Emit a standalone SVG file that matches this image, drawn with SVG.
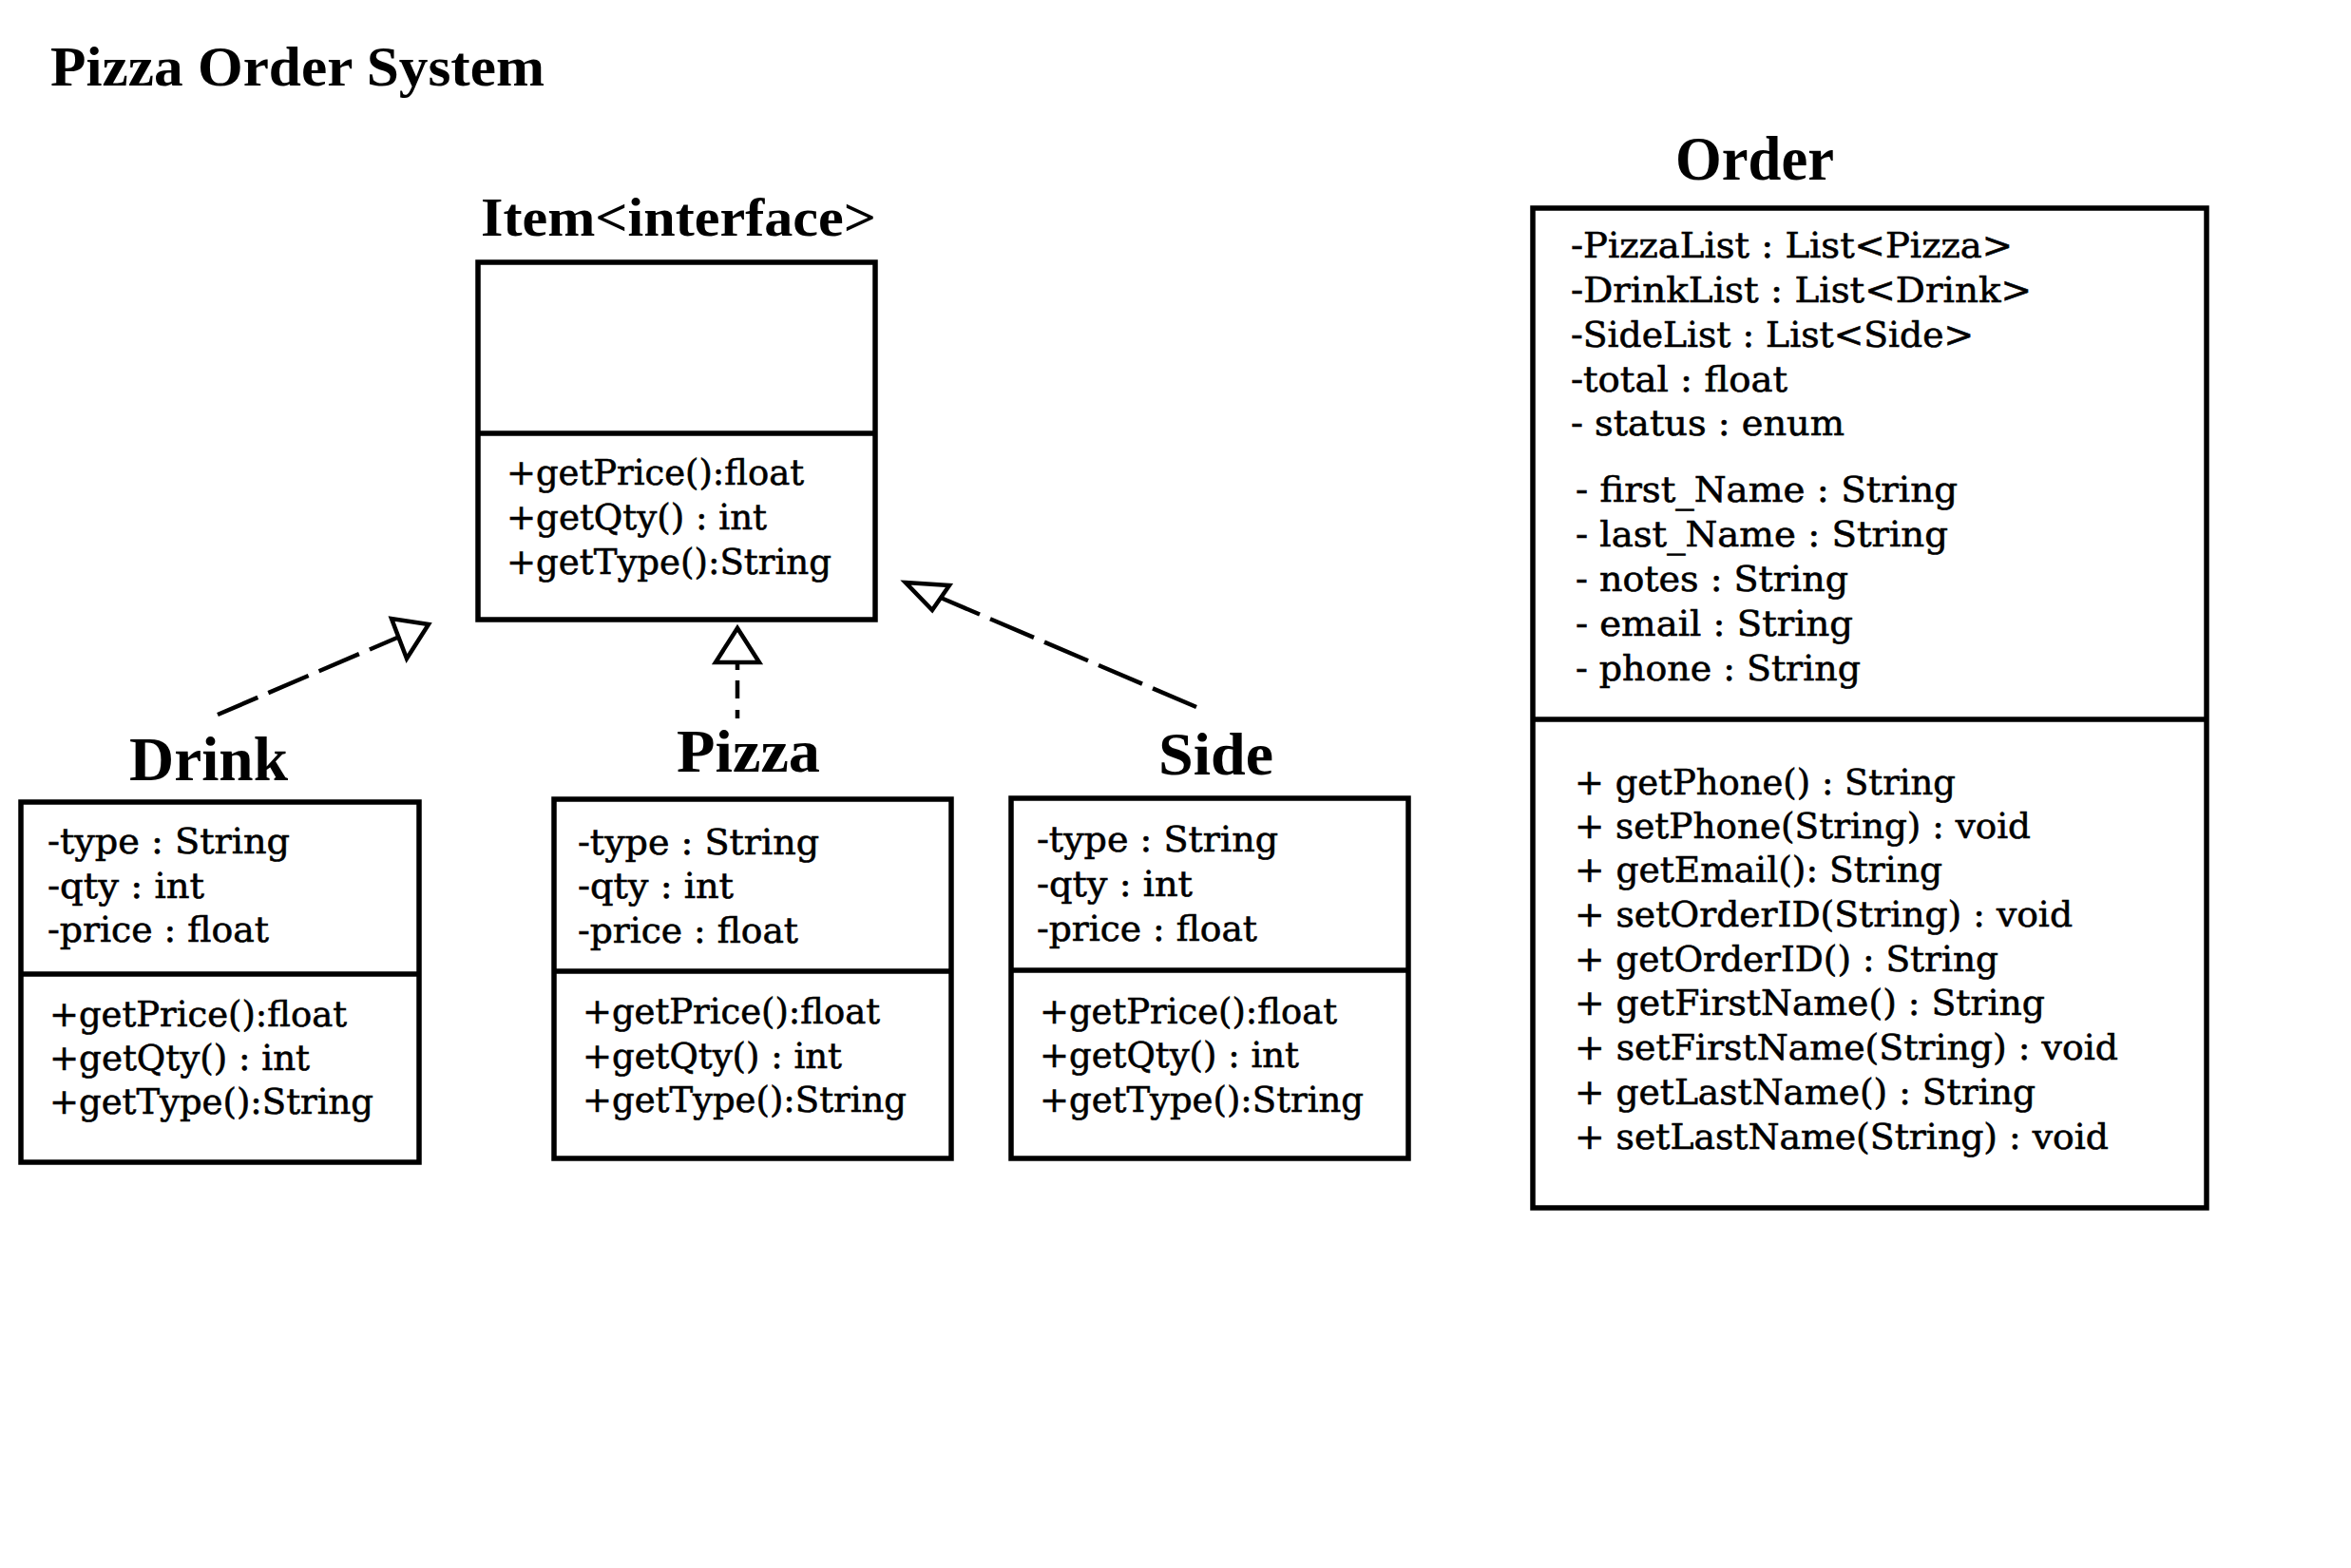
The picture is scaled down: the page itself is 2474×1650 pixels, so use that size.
<svg xmlns="http://www.w3.org/2000/svg" width="2474" height="1650" viewBox="0 0 2474 1650">
<style>
.bg{fill:#ffffff}
.box{fill:#ffffff;stroke:#000000;stroke-width:5.5}
.div{stroke:#000000;stroke-width:5.5;fill:none}
.t{font-family:"DejaVu Serif","Liberation Serif",serif;font-size:38px;fill:#000000;stroke:#000000;stroke-width:0.6}
.h{font-family:"Liberation Serif","DejaVu Serif",serif;font-weight:bold;fill:#000000}
.dash{stroke:#000000;stroke-width:4.5;fill:none}
.head{fill:#ffffff;stroke:#000000;stroke-width:4.5;stroke-linejoin:miter}
</style>
<rect class="bg" x="0" y="0" width="2474" height="1650"/>
<text class="h" x="53" y="90" font-size="59" textLength="520" lengthAdjust="spacingAndGlyphs">Pizza Order System</text>

<g id="item">
<text class="h" x="506" y="248" font-size="58" textLength="416" lengthAdjust="spacingAndGlyphs">Item&lt;interface&gt;</text>
<rect class="box" x="503" y="276" width="418" height="376"/>
<line class="div" x1="503" y1="456" x2="921" y2="456"/>
<text class="t" x="533" y="510" textLength="313" lengthAdjust="spacingAndGlyphs">+getPrice():float</text>
<text class="t" x="533" y="557" textLength="274" lengthAdjust="spacingAndGlyphs">+getQty() : int</text>
<text class="t" x="533" y="604" textLength="342" lengthAdjust="spacingAndGlyphs">+getType():String</text>
</g>

<g id="drink">
<text class="h" x="136" y="821" font-size="65" textLength="167" lengthAdjust="spacingAndGlyphs">Drink</text>
<rect class="box" x="22" y="844" width="419" height="379"/>
<line class="div" x1="22" y1="1025" x2="441" y2="1025"/>
<text class="t" x="50" y="898" textLength="255" lengthAdjust="spacingAndGlyphs">-type : String</text>
<text class="t" x="50" y="945" textLength="165" lengthAdjust="spacingAndGlyphs">-qty : int</text>
<text class="t" x="50" y="991" textLength="233" lengthAdjust="spacingAndGlyphs">-price : float</text>
<text class="t" x="52" y="1080" textLength="313" lengthAdjust="spacingAndGlyphs">+getPrice():float</text>
<text class="t" x="52" y="1126" textLength="274" lengthAdjust="spacingAndGlyphs">+getQty() : int</text>
<text class="t" x="52" y="1172" textLength="341" lengthAdjust="spacingAndGlyphs">+getType():String</text>
</g>

<g id="pizza">
<text class="h" x="712" y="812" font-size="64" textLength="151" lengthAdjust="spacingAndGlyphs">Pizza</text>
<rect class="box" x="583" y="841" width="418" height="378"/>
<line class="div" x1="583" y1="1022" x2="1001" y2="1022"/>
<text class="t" x="608" y="899" textLength="254" lengthAdjust="spacingAndGlyphs">-type : String</text>
<text class="t" x="608" y="945" textLength="164" lengthAdjust="spacingAndGlyphs">-qty : int</text>
<text class="t" x="608" y="992" textLength="232" lengthAdjust="spacingAndGlyphs">-price : float</text>
<text class="t" x="613" y="1077" textLength="313" lengthAdjust="spacingAndGlyphs">+getPrice():float</text>
<text class="t" x="613" y="1124" textLength="273" lengthAdjust="spacingAndGlyphs">+getQty() : int</text>
<text class="t" x="613" y="1170" textLength="341" lengthAdjust="spacingAndGlyphs">+getType():String</text>
</g>

<g id="side">
<text class="h" x="1219" y="815" font-size="64" textLength="121" lengthAdjust="spacingAndGlyphs">Side</text>
<rect class="box" x="1064" y="840" width="418" height="379"/>
<line class="div" x1="1064" y1="1021" x2="1482" y2="1021"/>
<text class="t" x="1091" y="896" textLength="254" lengthAdjust="spacingAndGlyphs">-type : String</text>
<text class="t" x="1091" y="943" textLength="164" lengthAdjust="spacingAndGlyphs">-qty : int</text>
<text class="t" x="1091" y="990" textLength="232" lengthAdjust="spacingAndGlyphs">-price : float</text>
<text class="t" x="1094" y="1077" textLength="313" lengthAdjust="spacingAndGlyphs">+getPrice():float</text>
<text class="t" x="1094" y="1123" textLength="273" lengthAdjust="spacingAndGlyphs">+getQty() : int</text>
<text class="t" x="1094" y="1170" textLength="341" lengthAdjust="spacingAndGlyphs">+getType():String</text>
</g>

<g id="order">
<text class="h" x="1763" y="189" font-size="65" textLength="167" lengthAdjust="spacingAndGlyphs">Order</text>
<rect class="box" x="1613" y="219" width="709" height="1052"/>
<line class="div" x1="1613" y1="757" x2="2324" y2="757"/>
<text class="t" x="1653" y="271" textLength="465" lengthAdjust="spacingAndGlyphs">-PizzaList : List&lt;Pizza&gt;</text>
<text class="t" x="1653" y="318" textLength="485" lengthAdjust="spacingAndGlyphs">-DrinkList : List&lt;Drink&gt;</text>
<text class="t" x="1653" y="365" textLength="424" lengthAdjust="spacingAndGlyphs">-SideList : List&lt;Side&gt;</text>
<text class="t" x="1653" y="412" textLength="228" lengthAdjust="spacingAndGlyphs">-total : float</text>
<text class="t" x="1653" y="458" textLength="288" lengthAdjust="spacingAndGlyphs">- status : enum</text>
<text class="t" x="1658" y="528" textLength="402" lengthAdjust="spacingAndGlyphs">- first_Name : String</text>
<text class="t" x="1658" y="575" textLength="392" lengthAdjust="spacingAndGlyphs">- last_Name : String</text>
<text class="t" x="1658" y="622" textLength="287" lengthAdjust="spacingAndGlyphs">- notes : String</text>
<text class="t" x="1658" y="669" textLength="292" lengthAdjust="spacingAndGlyphs">- email : String</text>
<text class="t" x="1658" y="716" textLength="300" lengthAdjust="spacingAndGlyphs">- phone : String</text>
<text class="t" x="1657" y="836" textLength="401" lengthAdjust="spacingAndGlyphs">+ getPhone() : String</text>
<text class="t" x="1657" y="882" textLength="480" lengthAdjust="spacingAndGlyphs">+ setPhone(String) : void</text>
<text class="t" x="1657" y="928" textLength="387" lengthAdjust="spacingAndGlyphs">+ getEmail(): String</text>
<text class="t" x="1657" y="975" textLength="524" lengthAdjust="spacingAndGlyphs">+ setOrderID(String) : void</text>
<text class="t" x="1657" y="1022" textLength="446" lengthAdjust="spacingAndGlyphs">+ getOrderID() : String</text>
<text class="t" x="1657" y="1068" textLength="495" lengthAdjust="spacingAndGlyphs">+ getFirstName() : String</text>
<text class="t" x="1657" y="1115" textLength="572" lengthAdjust="spacingAndGlyphs">+ setFirstName(String) : void</text>
<text class="t" x="1657" y="1162" textLength="485" lengthAdjust="spacingAndGlyphs">+ getLastName() : String</text>
<text class="t" x="1657" y="1209" textLength="562" lengthAdjust="spacingAndGlyphs">+ setLastName(String) : void</text>
</g>

<g id="connectors">
<path class="dash" d="M229,752 L418,671" stroke-dasharray="46 12"/>
<polygon class="head" points="451,657 412,651 428,693"/>
<path class="dash" d="M776,756 L776,697" stroke-dasharray="9 12 19 11 9"/>
<polygon class="head" points="776,661 753,697 799,697"/>
<path class="dash" d="M1259,744 L990,629" stroke-dasharray="50 12"/>
<polygon class="head" points="953,613 999,616 981,642"/>
</g>
</svg>
